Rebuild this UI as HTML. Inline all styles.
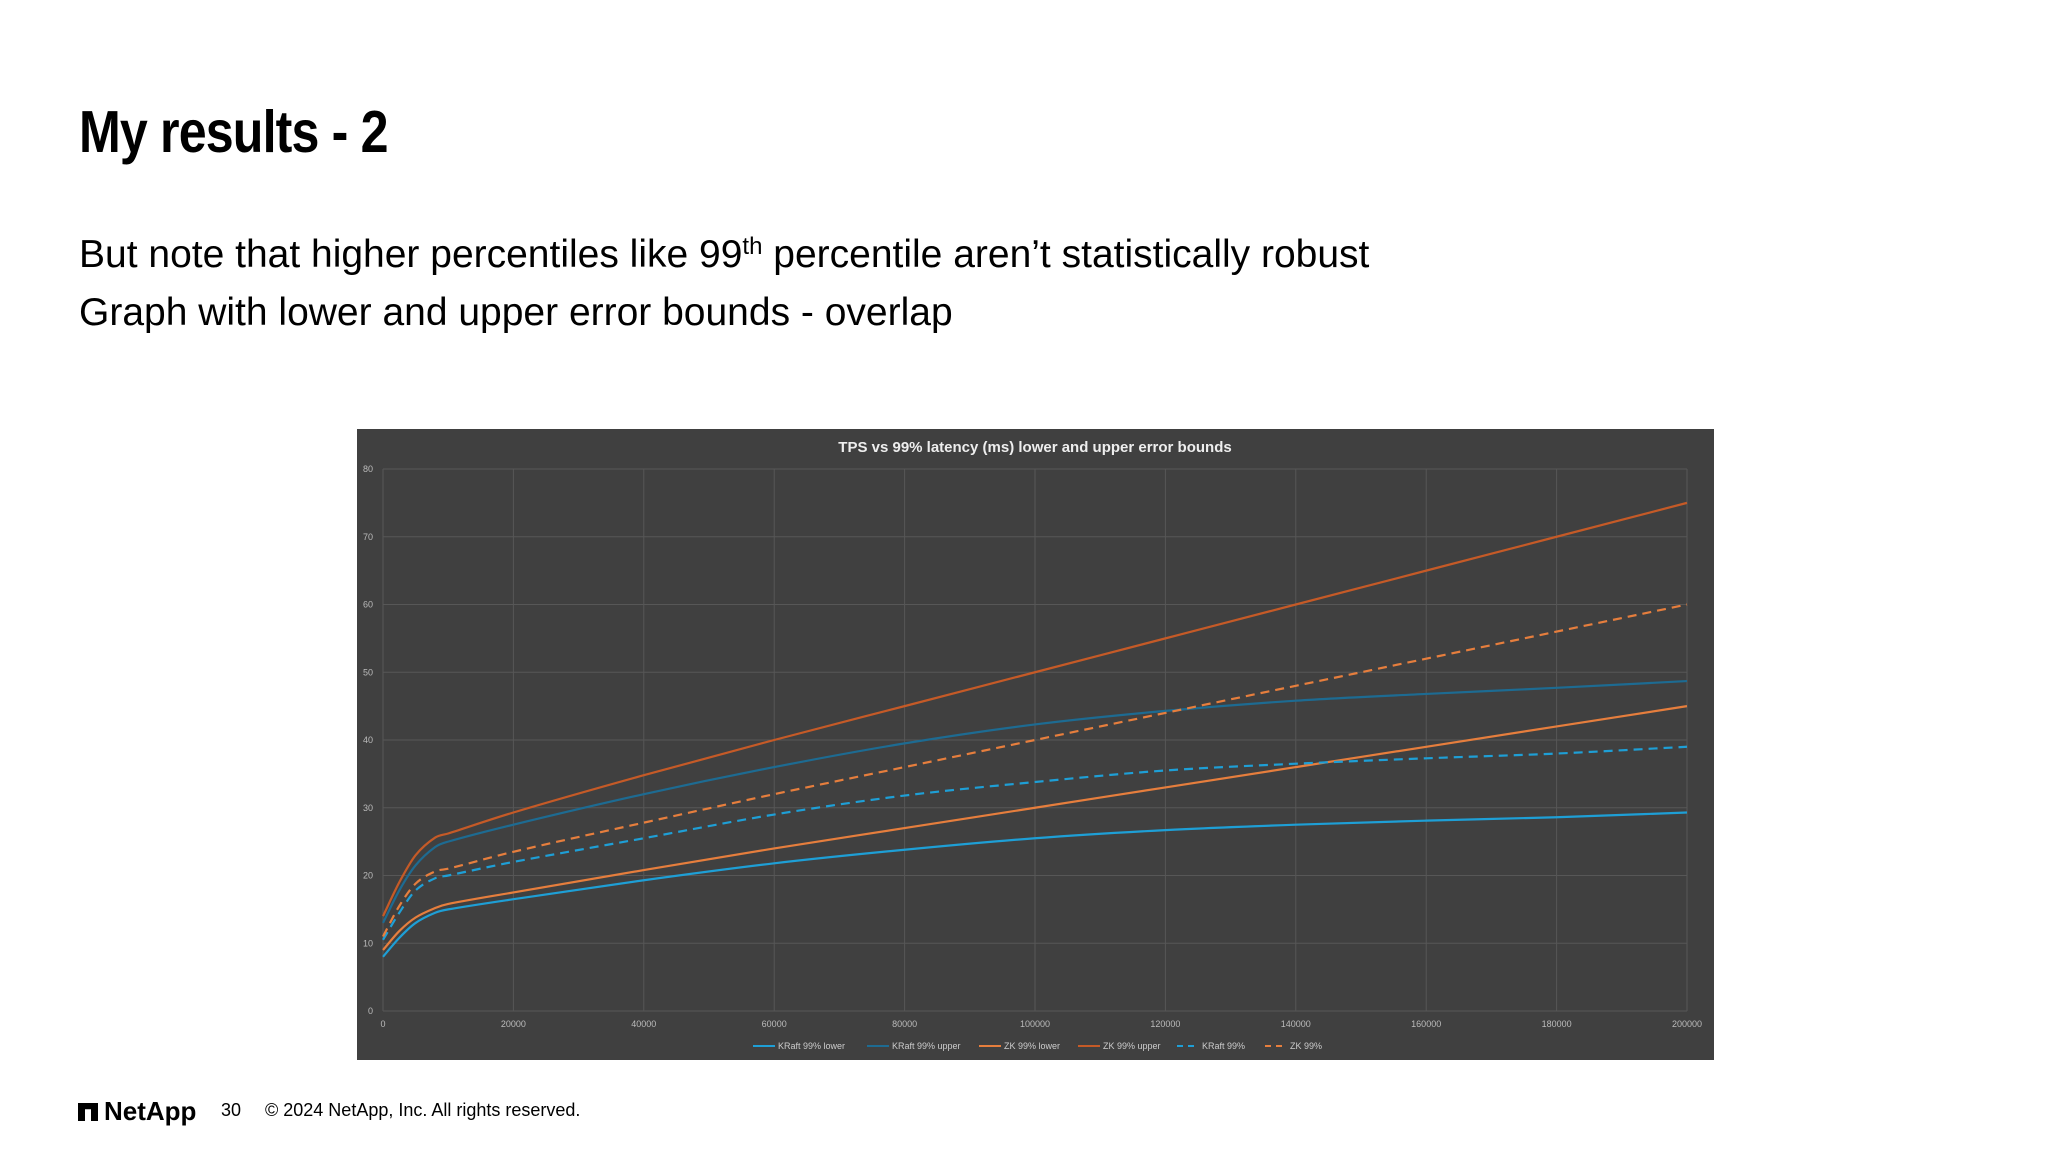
<!DOCTYPE html>
<html><head><meta charset="utf-8"><style>
html,body{margin:0;padding:0;background:#fff;}
body{width:2048px;height:1152px;position:relative;overflow:hidden;font-family:"Liberation Sans",sans-serif;}
.t{position:absolute;white-space:nowrap;color:#000;}
</style></head><body>
<div class="t" style="left:79px;top:98px;font-family:'Liberation Sans Narrow','Liberation Sans',sans-serif;font-weight:bold;font-size:59px;letter-spacing:-1px;transform:scaleX(0.85);transform-origin:0 0;">My results - 2</div>
<div class="t" style="left:79px;top:233px;font-size:39px;">But note that higher percentiles like 99<sup style="font-size:24px;vertical-align:13px;line-height:0">th</sup> percentile aren’t statistically robust</div>
<div class="t" style="left:79px;top:291px;font-size:39px;">Graph with lower and upper error bounds - overlap</div>

<svg style="position:absolute;left:0;top:0" width="2048" height="1152" id="chart"></svg>

<div class="t" style="left:78px;top:1096px;font-size:26px;font-weight:bold;"><span style="display:inline-block;width:20px;height:18px;background:#000;margin-right:6px;vertical-align:-1px;clip-path:polygon(0 0,100% 0,100% 100%,65% 100%,65% 35%,35% 35%,35% 100%,0 100%);"></span>NetApp</div>
<div class="t" style="left:221px;top:1100px;font-size:18px;">30</div>
<div class="t" style="left:265px;top:1100px;font-size:18px;">© 2024 NetApp, Inc. All rights reserved.</div>

<script>
const tps = [0, 2500, 5000, 8000, 10000, 20000, 40000, 60000, 80000, 100000, 120000, 140000, 160000, 180000, 200000];
const kraftLower = [8, 10.8, 13, 14.5, 15, 16.5, 19.3, 21.8, 23.8, 25.5, 26.7, 27.5, 28.1, 28.6, 29.3];
const kraftUpper = [13, 17.8, 21.5, 24.2, 25, 27.5, 32, 36, 39.5, 42.3, 44.3, 45.8, 46.8, 47.7, 48.7];
const zkLower = [9, 11.8, 13.8, 15.2, 15.8, 17.5, 20.8, 24, 27, 30, 33, 36, 39, 42, 45];
const zkUpper = [14, 19, 23, 25.6, 26.2, 29.3, 34.8, 40, 45, 50, 55, 60, 65, 70, 75];
const kraft99 = [10.5, 14.5, 17.8, 19.6, 20, 22, 25.5, 29, 31.8, 33.8, 35.5, 36.5, 37.3, 38, 39];
const zk99 = [11, 15.5, 18.8, 20.6, 21, 23.5, 27.8, 32, 36, 40, 44, 48, 52, 56, 60];
const xTicks = [0, 20000, 40000, 60000, 80000, 100000, 120000, 140000, 160000, 180000, 200000];
const yTicks = [0, 10, 20, 30, 40, 50, 60, 70, 80];
const seriesNames = ["KRaft 99% lower", "KRaft 99% upper", "ZK 99% lower", "ZK 99% upper", "KRaft 99%", "ZK 99%"];

const svg = document.getElementById('chart');
const NS = 'http://www.w3.org/2000/svg';
const X0 = 383, X1 = 1687, Y0 = 1011, Y1 = 469;
const xs = v => X0 + (v - 0) / 200000 * (X1 - X0);
const ys = v => Y0 - v / 80 * (Y0 - Y1);
function mk(tag, attrs) { const e = document.createElementNS(NS, tag); for (const k in attrs) e.setAttribute(k, attrs[k]); svg.appendChild(e); return e; }

const bg = mk('rect', {x:357, y:429, width:1357, height:631, fill:'#404040'});


const title = mk('text', {x:1035, y:452, fill:'#eee', 'font-size':15, 'font-weight':'bold', 'text-anchor':'middle', 'font-family':'Liberation Sans Narrow, Liberation Sans, sans-serif'});
title.textContent = 'TPS vs 99% latency (ms) lower and upper error bounds';



yTicks.forEach(t => {
  const g = mk('line', {x1:X0, x2:X1, y1:ys(t), y2:ys(t), stroke:'#575757', 'stroke-width':1});
  
  
  const l = mk('text', {x:373, y:ys(t)+3, fill:'#bbb', 'font-size':9, 'text-anchor':'end'});
  l.textContent = t;
  
  
});
xTicks.forEach(t => {
  const g = mk('line', {x1:xs(t), x2:xs(t), y1:Y1, y2:Y0, stroke:'#575757', 'stroke-width':1});
  
  
  const l = mk('text', {x:xs(t), y:1027, fill:'#bbb', 'font-size':9, 'text-anchor':'middle'});
  l.textContent = t;
  
  
});

function pathD(vals) {
  const p = tps.map((t, i) => [xs(t), ys(vals[i])]);
  let d = 'M' + p[0][0] + ',' + p[0][1];
  for (let i = 0; i < p.length - 1; i++) {
    const a = p[i-1] || p[i], b = p[i], c = p[i+1], e = p[i+2] || c;
    const h = c[0] - b[0];
    const s1 = (c[1]-a[1])/((c[0]-a[0])||1), s2 = (e[1]-b[1])/((e[0]-b[0])||1);
    const c1 = [b[0] + h/3, b[1] + s1*h/3];
    const c2 = [c[0] - h/3, c[1] - s2*h/3];
    d += ' C' + c1 + ' ' + c2 + ' ' + c;
  }
  return d;
}
const series = [
  [kraftLower, '#1e9fd6', ''],
  [kraftUpper, '#1d6b92', ''],
  [zkLower, '#e67e3d', ''],
  [zkUpper, '#c55a27', ''],
  [kraft99, '#1e9fd6', '9,6'],
  [zk99, '#e67e3d', '9,6']
];
series.forEach((s, i) => {
  const p = mk('path', {d:pathD(s[0]), fill:'none', stroke:s[1], 'stroke-width':2.2, 'stroke-dasharray':s[2]});
  
  
});
const legX = [753, 867, 979, 1078, 1177, 1265];
seriesNames.forEach((n, i) => {
  const y = 1046;
  const ln = mk('line', {x1:legX[i], x2:legX[i]+22, y1:y, y2:y, stroke:series[i][1], 'stroke-width':2, 'stroke-dasharray':series[i][2] ? '6,5' : ''});
  
  
  const t = mk('text', {x:legX[i]+25, y:y+3, fill:'#ccc', 'font-size':9});
  t.textContent = n;
  
  
});
</script>
</body></html>
